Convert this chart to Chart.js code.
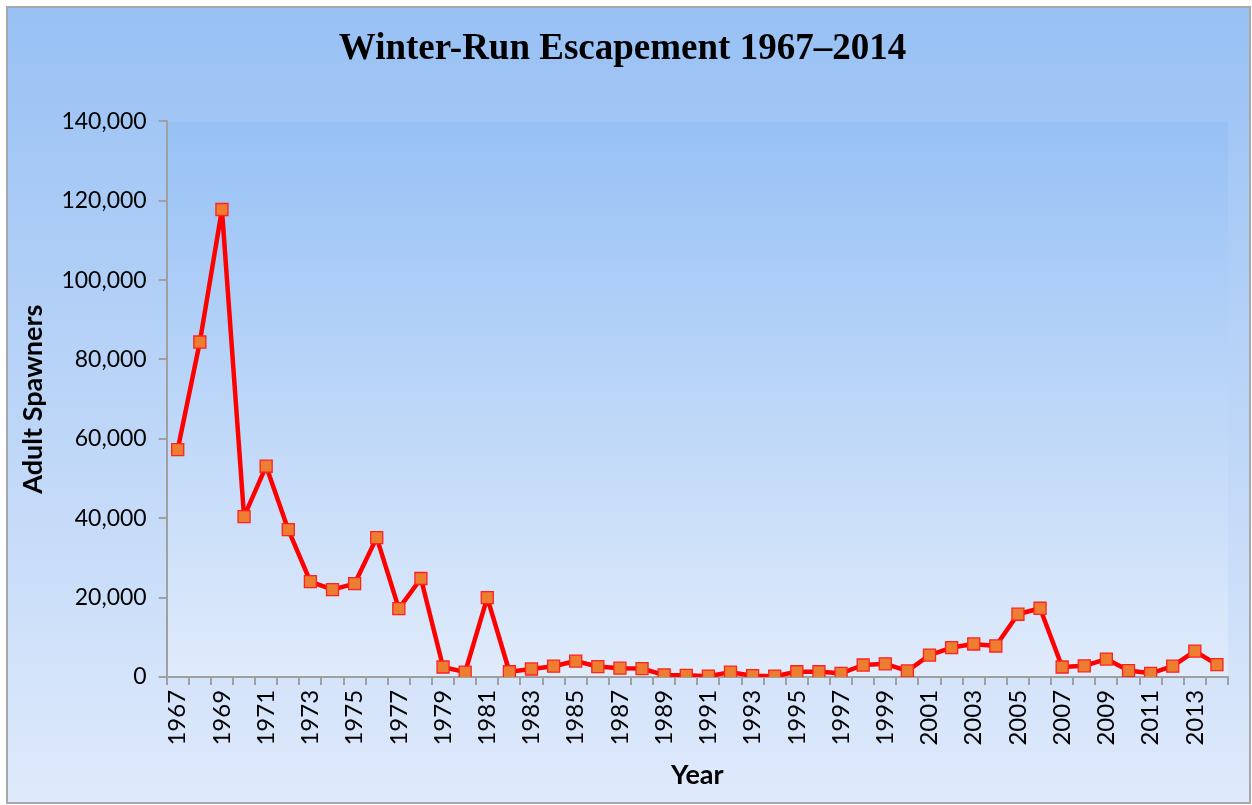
<!DOCTYPE html>
<html>
<head>
<meta charset="utf-8">
<script src="https://cdn.jsdelivr.net/npm/chart.js@4.4.1/dist/chart.umd.min.js"></script>
<style>
  html, body { margin: 0; padding: 0; background: #fff; }
  #wrap { width: 1252px; height: 805px; position: relative; }
</style>
</head>
<body>
<div id="wrap"><canvas id="chart"></canvas></div>
<script>
// Winter-run escapement, adult spawners per year
const years = [
  '1967','1968','1969','1970','1971','1972','1973','1974','1975','1976',
  '1977','1978','1979','1980','1981','1982','1983','1984','1985','1986',
  '1987','1988','1989','1990','1991','1992','1993','1994','1995','1996',
  '1997','1998','1999','2000','2001','2002','2003','2004','2005','2006',
  '2007','2008','2009','2010','2011','2012','2013','2014'
];
const spawners = [
  57300, 84400, 117800, 40400, 53100, 37100, 24000, 22000, 23500, 35100,
  17200, 24800, 2500, 1200, 20000, 1300, 2000, 2700, 4000, 2600,
  2200, 2100, 500, 400, 200, 1200, 300, 200, 1300, 1300,
  900, 3000, 3300, 1500, 5500, 7400, 8300, 7800, 15800, 17300,
  2500, 2800, 4500, 1600, 900, 2700, 6500, 3100
];
const yTicks = [0, 20000, 40000, 60000, 80000, 100000, 120000, 140000];

const axisGray = '#a0a0a0';
const bodyFont = 'Lato, "Open Sans", sans-serif';

// Backgrounds: outer panel gradient, plot area gradient, thin frame
const backdrop = {
  id: 'backdrop',
  beforeDraw(chart) {
    const { ctx, width, height, chartArea: a } = chart;
    ctx.save();
    const g = ctx.createLinearGradient(0, 0, 0, height);
    g.addColorStop(0, '#97c0f4');
    g.addColorStop(1, '#dfeafb');
    ctx.fillStyle = g;
    ctx.fillRect(7, 7, width - 9, height - 9);

    const g2 = ctx.createLinearGradient(0, a.top, 0, a.bottom);
    g2.addColorStop(0, '#97c1f5');
    g2.addColorStop(1, '#e0ebfb');
    ctx.fillStyle = g2;
    ctx.fillRect(a.left, a.top, a.right - a.left, a.bottom - a.top);

    ctx.strokeStyle = '#a8a8a8';
    ctx.lineWidth = 2;
    ctx.strokeRect(7, 7, width - 9, height - 9);
    ctx.restore();
  }
};

new Chart(document.getElementById('chart'), {
  type: 'line',
  data: {
    labels: years,
    datasets: [{
      data: spawners,
      borderColor: '#ff0000',
      borderWidth: 4.5,
      borderJoinStyle: 'round',
      pointStyle: 'rect',
      pointRadius: 8.5,
      pointBackgroundColor: '#ed7d31',
      pointBorderColor: '#ff2020',
      pointBorderWidth: 1.3,
      tension: 0,
    }],
  },
  options: {
    responsive: true,
    maintainAspectRatio: false,
    animation: false,
    layout: { padding: { top: 20, left: 17, right: 24, bottom: 14 } },
    plugins: {
      legend: { display: false },
      tooltip: { enabled: false },
      title: {
        display: true,
        text: 'Winter-Run Escapement 1967\u20132014',
        color: '#000',
        font: { family: '"Liberation Serif", "Times New Roman", serif', size: 37, weight: 'bold' },
        padding: { top: 7, bottom: 50 },
      },
    },
    scales: {
      x: {
        offset: true,
        grid: { offset: true, drawOnChartArea: false, color: axisGray, tickLength: 8, lineWidth: 2 },
        border: { display: true, color: axisGray, width: 2 },
        ticks: {
          autoSkip: false,
          maxRotation: 90,
          minRotation: 90,
          color: '#000',
          font: { family: bodyFont, size: 24 },
          padding: 5,
          callback: (v, i) => (i % 2 === 0 ? years[i] : ''),
        },
        title: {
          display: true,
          text: 'Year',
          color: '#000',
          font: { family: bodyFont, size: 27, weight: 'bold' },
          padding: { top: 8, bottom: 0 },
        },
      },
      y: {
        min: 0,
        max: 140000,
        afterBuildTicks: (axis) => { axis.ticks = yTicks.map(v => ({ value: v })); },
        grid: { drawOnChartArea: false, color: axisGray, tickLength: 8, lineWidth: 2 },
        border: { display: true, color: axisGray, width: 2 },
        ticks: {
          color: '#000',
          font: { family: bodyFont, size: 23 },
          padding: 12,
          callback: (v) => v.toLocaleString('en-US'),
        },
        title: {
          display: true,
          text: 'Adult Spawners',
          color: '#000',
          font: { family: bodyFont, size: 27, weight: 'bold' },
          padding: { top: 0, bottom: 0 },
        },
      },
    },
  },
  plugins: [backdrop],
});
</script>
</body>
</html>
